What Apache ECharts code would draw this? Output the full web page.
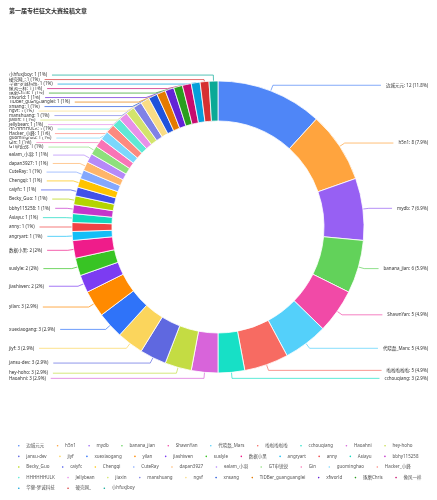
<!DOCTYPE html>
<html>
<head>
<meta charset="utf-8">
<script src="https://cdn.jsdelivr.net/npm/echarts@6/dist/echarts.min.js"></script>
<style>
html,body{margin:0;padding:0;background:#fff;}
#main{width:437px;height:500px;}
</style>
</head>
<body>
<div id="main"></div>
<script>
var titleText = '第一届专栏征文大赛投稿文章';
var names = ['边城元元','h5n1','mydb','banana_jian','ShawnYan','代晓磊_Mars','啦啦啦啦啦','cchouqiang','Haoahni','hey-hoho',
  'jansu-dev','jiyf','xuexiaogang','yilan','jiashiwen','suslyle','数据小黑','angryart','anny','Asiayu','bbhy115258',
  'Becky_Guo','caiyfc','Chengqi','CuteRay','dapan3927','ealam_小羽','GT申锐锐','Gin','guominghao','Hacker_小峰',
  'HHHHHHULK','Jellybean','jiaxin','manshuang','ngvf','xnsang','TiDBer_guanguanglei','xfworld','琢磨Chris','像风一样',
  '华健-梦诚科技','硬壳网_','小hfuxjboy'];
var values = [12,8,7,6,5,5,5,3,3,3,
  3,3,3,3,2,2,2,1,1,1,1,
  1,1,1,1,1,1,1,1,1,1,
  1,1,1,1,1,1,1,1,1,1,
  1,1,1];
var palette = ['#4f86f7','#ffa43e','#9760f3','#62d25a','#f14aa7','#54d0fa','#f76b62','#17e0c6','#d864da','#c4dc43',
  '#5f68e0','#fbd55c','#2f73f9','#ff8a00','#7c3cf2','#38c424','#ef1c8a','#14bef7','#f04343','#11d9bf','#c535cb',
  '#b3d400','#4150ea','#ffc300','#84a8fe','#ffb56a','#b689f9','#8ee07c','#f874b6','#7ad7fc','#fc8a80',
  '#5ee9d5','#e790ea','#d3e46c','#7f82e6','#f9dc85','#2053db','#e47a00','#6323d6','#2a9f1e','#c70c6e',
  '#049fda','#d63131','#0aa996'];

var pieData = names.map(function (n, i) { return { name: n, value: values[i] }; });
var FONT = "'Noto Sans', 'Noto Sans CJK SC', sans-serif";

var chart = echarts.init(document.getElementById('main'));
chart.setOption({
  color: palette,
  textStyle: { fontFamily: FONT },
  title: {
    text: titleText,
    left: 9, top: 8, padding: 0,
    textStyle: { fontSize: 6, lineHeight: 6, fontWeight: 'bold', color: '#333', fontFamily: FONT }
  },
  legend: {
    data: names,
    left: 11,
    top: 438,
    width: 420,
    icon: 'circle',
    itemWidth: 5,
    itemHeight: 3.6,
    itemGap: 5,
    textStyle: { fontSize: 4.5, lineHeight: 5, height: 5, color: '#555', padding: [0, 5.5, 0, 0], fontFamily: FONT }
  },
  series: [{
    type: 'pie',
    center: [218, 227],
    radius: [106, 146],
    startAngle: 90,
    clockwise: true,
    avoidLabelOverlap: true,
    itemStyle: { borderColor: '#fff', borderWidth: 0.8 },
    label: {
      show: true,
      fontSize: 4.5,
      lineHeight: 4.5,
      height: 4.5,
      minMargin: 0,
      padding: 0,
      fontFamily: FONT,
      alignTo: 'edge',
      edgeDistance: 9,
      formatter: function (p) {
        return p.name + ': ' + p.value + ' (' + (Math.round(p.percent * 10) / 10) + '%)';
      }
    },
    labelLine: { length: 6, length2: 10, lineStyle: { width: 0.7 } },
    data: pieData
  }]
});
</script>
</body>
</html>
